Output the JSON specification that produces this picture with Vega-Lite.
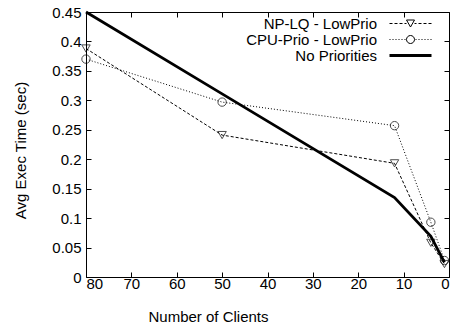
{
  "$schema": "https://vega.github.io/schema/vega-lite/v6.json",
  "width": 363,
  "height": 265,
  "autosize": {"type": "none"},
  "padding": {"left": 86, "top": 12, "right": 4, "bottom": 52},
  "background": "white",
  "config": {
    "font": "Liberation Sans",
    "view": {"stroke": "black", "strokeWidth": 1},
    "axis": {
      "labelFont": "Liberation Sans", "titleFont": "Liberation Sans",
      "labelFontSize": 15, "titleFontSize": 15, "labelColor": "black", "titleColor": "black",
      "titleFontWeight": "normal", "grid": false, "domain": false
    }
  },
  "data": {
    "values": [
      {"clients": 80, "time": 0.388, "series": "NP-LQ - LowPrio"},
      {"clients": 50, "time": 0.241, "series": "NP-LQ - LowPrio"},
      {"clients": 12, "time": 0.193, "series": "NP-LQ - LowPrio"},
      {"clients": 4, "time": 0.058, "series": "NP-LQ - LowPrio"},
      {"clients": 1, "time": 0.022, "series": "NP-LQ - LowPrio"},
      {"clients": 80, "time": 0.37, "series": "CPU-Prio - LowPrio"},
      {"clients": 50, "time": 0.297, "series": "CPU-Prio - LowPrio"},
      {"clients": 12, "time": 0.257, "series": "CPU-Prio - LowPrio"},
      {"clients": 4, "time": 0.093, "series": "CPU-Prio - LowPrio"},
      {"clients": 1, "time": 0.028, "series": "CPU-Prio - LowPrio"},
      {"clients": 80, "time": 0.45, "series": "No Priorities"},
      {"clients": 50, "time": 0.311, "series": "No Priorities"},
      {"clients": 12, "time": 0.135, "series": "No Priorities"},
      {"clients": 4, "time": 0.069, "series": "No Priorities"},
      {"clients": 1, "time": 0.025, "series": "No Priorities"}
    ]
  },
  "layer": [
    {
      "transform": [{"filter": "datum.series !== 'No Priorities'"}],
      "mark": {"type": "line", "color": "black", "strokeWidth": 1},
      "encoding": {
        "x": {"field": "clients", "type": "quantitative",
              "scale": {"domain": [0, 80], "reverse": true, "nice": false},
              "axis": {"title": "Number of Clients", "values": [0,10,20,30,40,50,60,70,80], "ticks": true, "tickSize": -5, "tickColor": "black", "tickOpacity": 1, "tickWidth": 1, "labelPadding": 4,
                       "titleX": 122, "titleY": 44, "titleAlign": "center", "titleBaseline": "alphabetic", "titleAnchor": null}},
        "y": {"field": "time", "type": "quantitative",
              "scale": {"domain": [0, 0.45], "nice": false},
              "axis": {"title": "Avg Exec Time (sec)", "values": [0,0.05,0.1,0.15,0.2,0.25,0.3,0.35,0.4,0.45], "format": "~g", "ticks": true, "tickSize": -5, "tickColor": "black", "tickOpacity": 1, "tickWidth": 1, "labelPadding": 10,
                       "titleX": -61, "titleY": 138, "titleAlign": "center", "titleBaseline": "alphabetic", "titleAngle": -90, "titleAnchor": null}},
        "detail": {"field": "series", "type": "nominal"},
        "strokeDash": {"condition": {"test": "datum.series === 'NP-LQ - LowPrio'", "value": [3, 2]}, "value": [1, 2]}
      }
    },
    {
      "transform": [{"filter": "datum.series === 'No Priorities'"}],
      "mark": {"type": "line", "color": "black", "strokeWidth": 2.8},
      "encoding": {
        "x": {"field": "clients", "type": "quantitative", "axis": null},
        "y": {"field": "time", "type": "quantitative", "axis": null}
      }
    },
    {
      "transform": [{"filter": "datum.series !== 'No Priorities'"}],
      "mark": {"type": "point", "color": "black", "filled": false, "size": 70, "strokeWidth": 1},
      "encoding": {
        "x": {"field": "clients", "type": "quantitative", "axis": {"orient": "top", "labels": false, "title": null, "values": [0,10,20,30,40,50,60,70,80], "ticks": true, "tickSize": -5, "tickColor": "black", "tickOpacity": 1, "tickWidth": 1}},
        "y": {"field": "time", "type": "quantitative", "axis": {"orient": "right", "labels": false, "title": null, "values": [0,0.05,0.1,0.15,0.2,0.25,0.3,0.35,0.4,0.45], "ticks": true, "tickSize": -5, "tickColor": "black", "tickOpacity": 1, "tickWidth": 1}},
        "shape": {"condition": {"test": "datum.series === 'NP-LQ - LowPrio'", "value": "triangle-down"}, "value": "circle"}
      }
    },
    {
      "mark": {"type": "point", "color": "black", "filled": false, "opacity": 0},
      "encoding": {
        "x": {"field": "clients", "type": "quantitative", "axis": null},
        "y": {"field": "time", "type": "quantitative", "axis": null},
        "shape": {"field": "series", "type": "nominal",
              "scale": {"domain": ["NP-LQ - LowPrio", "CPU-Prio - LowPrio", "No Priorities"],
                        "range": [
                          "M-4.2,0L-3.6,0M-3.2,0L-2.6,0M-2.2,0L-1.6,0M-1.2,0L-0.8,0M0.8,0L1.2,0M1.6,0L2.2,0M2.6,0L3.2,0M3.6,0L4.2,0M-0.8,-0.7L0.8,-0.7L0,0.7Z",
                          "M-4.2,0L-4,0M-3.6,0L-3.4,0M-3,0L-2.8,0M-2.4,0L-2.2,0M-1.8,0L-1.6,0M-1.2,0L-1,0M1,0L1.2,0M1.6,0L1.8,0M2.2,0L2.4,0M2.8,0L3,0M3.4,0L3.6,0M4,0L4.2,0M-0.8,0A0.8,0.8 0 1,0 0.8,0A0.8,0.8 0 1,0 -0.8,0Z",
                          "M-4.2,-0.2L4.2,-0.2M-4.2,0L4.2,0M-4.2,0.2L4.2,0.2"
                        ]},
              "legend": {"title": null, "orient": "none", "legendX": 317, "legendY": 4, "labelFontSize": 15, "labelFont": "Liberation Sans", "labelColor": "black",
                         "labelAlign": "right", "labelOffset": -41,
                         "symbolStrokeColor": "black", "symbolFillColor": "transparent", "symbolOpacity": 1,
                         "symbolSize": 100, "symbolStrokeWidth": 1, "rowPadding": -3, "padding": 0}}
      }
    }
  ],
  "resolve": {"axis": {"x": "independent", "y": "independent"}}
}
